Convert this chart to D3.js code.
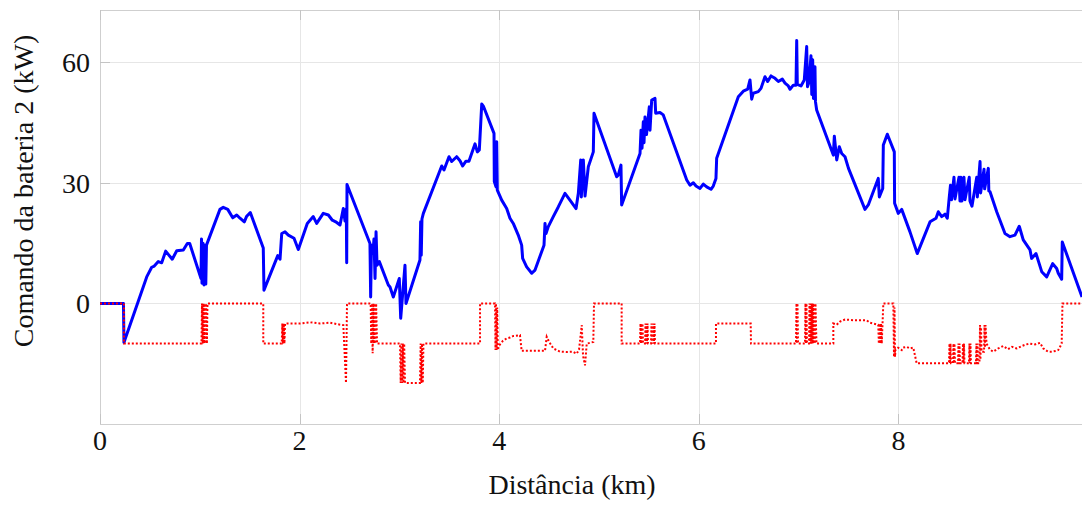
<!DOCTYPE html>
<html>
<head>
<meta charset="utf-8">
<script src="https://cdn.jsdelivr.net/npm/d3@7"></script>
<style>
  html, body { margin: 0; padding: 0; background: #fff; }
  svg { display: block; }
  text { font-family: "Liberation Serif", "Times New Roman", serif; fill: #111; }
</style>
</head>
<body>
<svg id="chart" width="1082" height="505"></svg>
<script>
// Battery 2 command (kW) versus distance (km): [km, kW]
const batteryCommand = [
  [0, 0], [0.235, 0], [0.240, -9.7], [0.468, 6.6], [0.518, 9.0], [0.544, 9.3], [0.584, 10.4],
  [0.618, 10.1], [0.658, 13.0], [0.684, 12.2], [0.724, 11.0], [0.769, 13.1], [0.835, 13.3],
  [0.875, 14.9], [0.899, 14.9], [1.012, 6.2], [1.017, 16], [1.022, 5], [1.032, 15], [1.042, 4.6],
  [1.052, 14.5], [1.060, 4.8], [1.067, 14.5], [1.202, 23.4], [1.235, 23.9], [1.280, 23.4],
  [1.330, 21.3], [1.370, 22.0], [1.403, 21.2], [1.446, 20.3], [1.470, 21.7], [1.506, 22.6],
  [1.636, 13.8], [1.643, 3.3], [1.781, 11.9], [1.804, 11.0], [1.821, 17.4], [1.854, 17.8],
  [1.887, 17.0], [1.944, 16.2], [1.987, 13.4], [2.077, 19.9], [2.137, 21.6], [2.171, 19.9],
  [2.237, 22.4], [2.288, 22.0], [2.328, 20.7], [2.362, 20.3], [2.405, 19.5], [2.438, 23.6],
  [2.455, 20.5], [2.468, 23.5], [2.472, 10.1], [2.475, 29.6], [2.705, 14.9], [2.712, 1.6],
  [2.720, 14.5], [2.735, 12.5], [2.745, 16], [2.756, 6.2], [2.766, 17.8], [2.776, 9.5],
  [2.799, 10.4], [2.889, 4.6], [2.906, 4.1], [2.939, 1.6], [2.999, 6.2], [3.013, -3.7],
  [3.056, 9.5], [3.066, 0], [3.206, 10.8], [3.213, 20.3], [3.219, 12], [3.226, 21], [3.240, 22.4],
  [3.424, 34.2], [3.447, 33.2], [3.497, 36.5], [3.524, 35.3], [3.574, 36.5], [3.607, 35.5],
  [3.634, 34.2], [3.667, 35.4], [3.697, 35.4], [3.758, 39.7], [3.781, 37.7], [3.801, 38.2],
  [3.825, 49.6], [3.841, 49.1], [3.948, 42.3], [3.951, 30.3], [3.968, 29], [3.975, 40.2],
  [3.981, 28.2], [4.025, 25.7], [4.075, 23.6], [4.108, 21.2], [4.141, 19.9], [4.191, 17.0],
  [4.225, 14.5], [4.235, 11.2], [4.275, 9.1], [4.326, 7.5], [4.359, 8.3], [4.449, 14.5],
  [4.459, 19.9], [4.469, 17.4], [4.492, 19.1], [4.542, 21.6], [4.592, 24.0], [4.659, 27.4],
  [4.709, 25.7], [4.770, 23.6], [4.793, 27.4], [4.817, 35.7], [4.823, 26.5], [4.843, 35.7],
  [4.860, 26.7], [4.893, 34], [4.943, 37.7], [4.950, 47.3], [5.177, 31.5], [5.193, 31.9],
  [5.220, 34.4], [5.227, 24.5], [5.411, 37.3], [5.421, 43.1], [5.431, 38.6], [5.444, 45.2],
  [5.451, 40], [5.461, 46.4], [5.476, 42], [5.504, 48.9], [5.511, 43.1], [5.528, 50.6],
  [5.561, 51.0], [5.568, 47.3], [5.611, 47.5], [5.644, 46.9], [5.879, 30.7], [5.912, 29.4],
  [5.945, 30.0], [5.972, 29.2], [6.012, 28.6], [6.045, 29.7], [6.079, 29.0], [6.122, 28.4],
  [6.145, 29.2], [6.172, 31.1], [6.179, 36.1], [6.396, 51.4], [6.446, 52.8], [6.490, 53.3],
  [6.513, 55.6], [6.530, 50.8], [6.546, 52.3], [6.596, 52.7], [6.623, 53.5], [6.663, 56.4],
  [6.690, 55.2], [6.723, 56.6], [6.764, 56.0], [6.797, 55.2], [6.837, 55.8], [6.864, 54.8],
  [6.897, 54.1], [6.914, 53.3], [6.947, 54.3], [6.974, 54.3], [6.981, 65.4], [6.987, 54.5],
  [7.024, 54.1], [7.057, 55.6], [7.081, 63.9], [7.089, 53.9], [7.104, 55], [7.124, 61.6],
  [7.132, 52], [7.141, 60.6], [7.149, 51], [7.164, 58.9], [7.169, 50.2], [7.181, 48.1],
  [7.348, 36.9], [7.358, 41.6], [7.382, 35.7], [7.408, 39.0], [7.432, 37.3], [7.465, 36.5],
  [7.500, 33.6], [7.665, 23.4], [7.698, 24.5], [7.798, 31.1], [7.809, 26.5], [7.843, 28.6],
  [7.849, 39.4], [7.889, 42.1], [7.959, 37.7], [7.962, 24.9], [7.999, 22.4], [8.033, 23.4],
  [8.116, 17.8], [8.189, 12.4], [8.317, 20.3], [8.377, 21.2], [8.400, 22.8], [8.434, 21.6],
  [8.467, 22.2], [8.490, 21.2], [8.510, 26.5], [8.522, 29.4], [8.532, 25.8], [8.557, 31.4],
  [8.567, 26], [8.607, 31.4], [8.617, 25.5], [8.627, 31.4], [8.637, 25.5], [8.657, 31.4],
  [8.667, 25.8], [8.710, 31.4], [8.717, 25.5], [8.737, 24.2], [8.785, 31.4], [8.791, 26.5],
  [8.818, 35.3], [8.824, 27.5], [8.858, 33.4], [8.864, 28.5], [8.901, 33.6], [8.906, 28],
  [8.918, 27.8], [8.985, 22.8], [9.068, 17.4], [9.118, 16.6], [9.168, 17.0], [9.211, 19.2],
  [9.251, 15.8], [9.319, 13.3], [9.335, 11.2], [9.379, 12.4], [9.436, 7.9], [9.486, 6.6],
  [9.546, 9.9], [9.586, 8.7], [9.602, 7.5], [9.636, 6.0], [9.642, 15.3], [9.840, 1.6]
];

// Dotted reference level (kW) versus distance (km): [km, kW]
const referenceLevel = [
  [0, 0], [0.240, 0], [0.240, -10], [1.017, -10], [1.022, 0], [1.029, -10], [1.036, 0],
  [1.043, -10], [1.050, 0], [1.057, -10], [1.064, 0], [1.071, -10], [1.077, 0], [1.636, 0],
  [1.636, -10], [1.821, -10], [1.827, -5], [1.834, -10], [1.841, -5], [1.848, -10], [1.854, -5],
  [2.004, -5], [2.104, -4.7], [2.204, -5], [2.305, -4.8], [2.385, -5.2], [2.438, -5.4],
  [2.465, -19.8], [2.475, 0], [2.712, 0], [2.718, -10], [2.725, 0], [2.732, -12.4], [2.739, 0],
  [2.746, -10], [2.753, 0], [2.760, -10], [2.767, 0], [2.776, -10], [3.006, -10], [3.013, -19.8],
  [3.020, -10], [3.027, -19.8], [3.034, -10], [3.041, -19.8], [3.048, -10], [3.056, -19.8],
  [3.206, -19.8], [3.213, -10], [3.220, -19.8], [3.227, -10], [3.234, -19.8], [3.241, -10],
  [3.808, -10], [3.808, 0], [3.958, 0], [3.963, -11.6], [3.968, 0], [3.974, -11.6], [3.980, -1],
  [3.986, -11.6], [3.998, -10.5], [4.038, -9.3], [4.075, -8.7], [4.108, -8.5], [4.141, -8.1],
  [4.208, -7.9], [4.225, -11.8], [4.459, -11.8], [4.476, -8.3], [4.499, -9.5], [4.542, -11.2],
  [4.609, -12], [4.679, -12.1], [4.739, -12], [4.776, -12.5], [4.800, -11.5], [4.827, -5.4],
  [4.840, -13], [4.860, -15.4], [4.877, -10], [4.943, -9.6], [4.950, 0], [5.227, 0],
  [5.227, -10], [5.411, -10], [5.416, -5], [5.421, -10], [5.426, -5], [5.431, -10], [5.436, -5],
  [5.441, -10], [5.461, -10], [5.466, -5], [5.471, -10], [5.476, -5], [5.481, -10], [5.486, -5],
  [5.491, -10], [5.521, -10], [5.526, -5], [5.531, -10], [5.536, -5], [5.541, -10], [5.546, -5],
  [5.551, -10], [5.556, -5], [5.561, -10], [6.172, -10], [6.172, -5], [6.313, -5], [6.520, -5],
  [6.523, -10], [6.974, -10], [6.979, 0], [6.984, -10], [6.989, 0], [6.994, -10], [7.064, -10],
  [7.069, 0], [7.074, -10], [7.079, 0], [7.084, -10], [7.104, -10], [7.109, 0], [7.114, -10],
  [7.119, 0], [7.124, -10], [7.134, 0], [7.139, -10], [7.144, 0], [7.149, -10], [7.159, 0],
  [7.164, -10], [7.169, 0], [7.179, -10], [7.348, -10], [7.348, -5], [7.382, -5.3], [7.415, -4.5],
  [7.465, -4.0], [7.565, -4.2], [7.682, -4.2], [7.715, -4.8], [7.745, -5], [7.798, -5.3],
  [7.804, -10], [7.811, -5], [7.818, -10], [7.826, -5], [7.833, -10], [7.841, -5], [7.849, 0],
  [7.949, 0], [7.956, -13.3], [7.961, -1], [7.966, -13.3], [7.971, -11.5], [7.996, -11],
  [8.033, -11.6], [8.046, -11], [8.083, -10.8], [8.116, -11.2], [8.149, -11], [8.183, -14.9],
  [8.507, -14.9], [8.512, -10], [8.517, -14.9], [8.522, -10], [8.527, -14.9], [8.547, -14.9],
  [8.552, -10], [8.557, -14.9], [8.562, -10], [8.567, -14.9], [8.597, -14.9], [8.602, -10],
  [8.607, -14.9], [8.612, -10], [8.617, -14.9], [8.642, -14.9], [8.647, -10], [8.652, -14.9],
  [8.657, -10], [8.662, -14.9], [8.707, -14.9], [8.712, -10], [8.717, -14.9], [8.722, -10],
  [8.727, -14.9], [8.777, -14.9], [8.782, -10], [8.787, -14.9], [8.792, -10], [8.797, -14.9],
  [8.812, -14.9], [8.818, -5.4], [8.822, -14], [8.828, -6], [8.833, -12], [8.858, -12],
  [8.863, -5.4], [8.868, -11], [8.873, -5.4], [8.883, -10], [8.918, -11.5], [8.951, -12],
  [9.001, -11.2], [9.051, -10.6], [9.098, -11.4], [9.138, -10.8], [9.185, -11.2], [9.238, -10.6],
  [9.279, -10.2], [9.319, -10], [9.369, -10.2], [9.419, -9.8], [9.452, -11.2], [9.499, -12],
  [9.539, -12], [9.579, -11.8], [9.602, -11.6], [9.636, -10], [9.644, 0], [9.840, 0]
];

const xTicks = [0, 2, 4, 6, 8];
const yTicks = [0, 30, 60];
const xLabel = "Distância (km)";
const yLabel = "Comando da bateria 2 (kW)";

const svg = d3.select("#chart");
const plotLeft = 100, plotRight = 1098, plotTop = 10, plotBottom = 424;

const x = d3.scaleLinear().domain([0, 10]).range([plotLeft, plotRight]);
const y = d3.scaleLinear().domain([-30, 73]).range([plotBottom, plotTop]);

// grid
const grid = svg.append("g").attr("stroke", "#e6e6e6").attr("stroke-width", 1);
grid.selectAll("line.gx").data(xTicks.filter(d => d > 0)).join("line")
  .attr("x1", d => Math.round(x(d)) + 0.5).attr("x2", d => Math.round(x(d)) + 0.5)
  .attr("y1", plotTop).attr("y2", plotBottom);
grid.selectAll("line.gy").data(yTicks).join("line")
  .attr("x1", plotLeft).attr("x2", plotRight)
  .attr("y1", d => Math.round(y(d)) + 0.5).attr("y2", d => Math.round(y(d)) + 0.5);

// frame
svg.append("rect")
  .attr("x", plotLeft + 0.5).attr("y", plotTop + 0.5)
  .attr("width", plotRight - plotLeft).attr("height", plotBottom - plotTop)
  .attr("fill", "none").attr("stroke", "#cfcfcf").attr("stroke-width", 1);

// inward ticks
const ticks = svg.append("g").attr("stroke", "#c4c4c4").attr("stroke-width", 1);
ticks.selectAll("line.ty").data(yTicks).join("line")
  .attr("x1", plotLeft).attr("x2", plotLeft + 10)
  .attr("y1", d => Math.round(y(d)) + 0.5).attr("y2", d => Math.round(y(d)) + 0.5);
ticks.selectAll("line.tt").data(xTicks).join("line")
  .attr("x1", d => Math.round(x(d)) + 0.5).attr("x2", d => Math.round(x(d)) + 0.5)
  .attr("y1", plotTop).attr("y2", plotTop + 10);
ticks.selectAll("line.tb").data(xTicks).join("line")
  .attr("x1", d => Math.round(x(d)) + 0.5).attr("x2", d => Math.round(x(d)) + 0.5)
  .attr("y1", plotBottom).attr("y2", plotBottom - 10);

// tick labels
svg.append("g").selectAll("text").data(xTicks).join("text")
  .attr("x", d => x(d)).attr("y", 450)
  .attr("text-anchor", "middle").attr("font-size", 28)
  .text(d => d);
svg.append("g").selectAll("text").data(yTicks).join("text")
  .attr("x", 90).attr("y", d => y(d) + 9.7)
  .attr("text-anchor", "end").attr("font-size", 28)
  .text(d => d);

// axis titles
svg.append("text")
  .attr("x", 572).attr("y", 494)
  .attr("text-anchor", "middle").attr("font-size", 28)
  .text(xLabel);
svg.append("text")
  .attr("transform", "translate(33,191) rotate(-90)")
  .attr("text-anchor", "middle").attr("font-size", 28)
  .text(yLabel);

// series: solid command line, dotted reference on top
const line = d3.line().x(d => x(d[0])).y(d => y(d[1]));
const plot = svg.append("g");
plot.append("path").datum(batteryCommand)
  .attr("d", line).attr("fill", "none")
  .attr("stroke", "#0000ff").attr("stroke-width", 3)
  .attr("stroke-linejoin", "round");
plot.append("path").datum(referenceLevel)
  .attr("d", line).attr("fill", "none")
  .attr("stroke", "#ff0000").attr("stroke-width", 2)
  .attr("stroke-dasharray", "2,2");
</script>
</body>
</html>
